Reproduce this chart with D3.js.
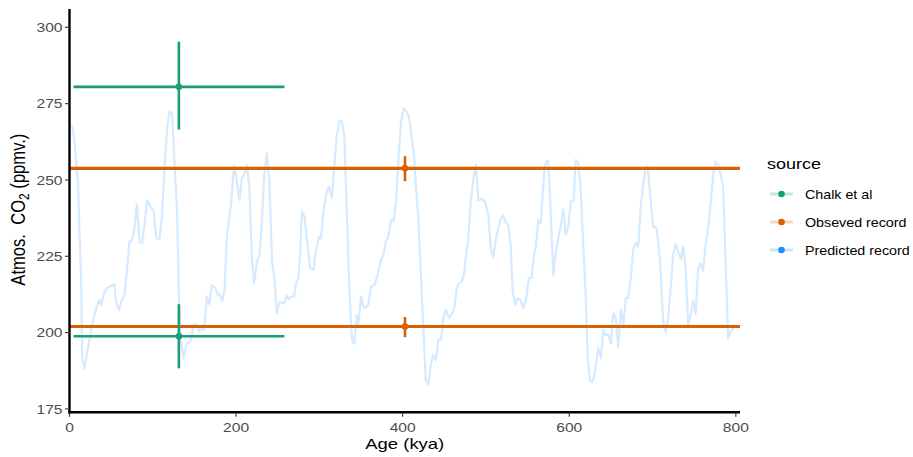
<!DOCTYPE html>
<html>
<head>
<meta charset="utf-8">
<script src="https://cdn.jsdelivr.net/npm/d3@7"></script>
<style>
  html, body { margin: 0; padding: 0; background: #fff; }
  svg { display: block; font-family: "Liberation Sans", Arial, sans-serif; }
</style>
</head>
<body>
<svg id="chart" width="913" height="457"></svg>
<script>
// ---------------- DATA ----------------
const xTicks = [0, 200, 400, 600, 800];
const yTicks = [175, 200, 225, 250, 275, 300];
const legendTitle = "source";
const sources = ["Chalk et al", "Obseved record", "Predicted record"];

// Predicted record (age kya, CO2 ppmv)
const predAge = [3.2, 6.0, 10.1, 14.0, 15.2, 18.0, 22.1, 28.1, 32.0, 36.0, 38.0, 42.0, 47.3, 54.0, 56.0, 59.3, 62.0, 66.0, 69.2, 72.0, 75.2, 78.0, 80.9, 84.0, 87.2, 90.5, 93.2, 96.0, 101.3, 104.0, 108.0, 111.2, 114.0, 117.2, 120.0, 123.2, 126.0, 129.2, 131.3, 134.0, 136.8, 140.9, 144.8, 149.6, 153.6, 156.0, 158.9, 161.6, 164.9, 168.0, 170.9, 174.8, 177.6, 180.8, 183.2, 186.0, 188.9, 191.6, 194.0, 197.6, 200.9, 204.0, 206.9, 209.6, 212.9, 216.0, 218.9, 221.6, 224.9, 228.0, 230.9, 233.6, 236.9, 240.0, 243.2, 245.6, 248.9, 252.0, 257.6, 260.9, 263.3, 266.0, 269.6, 272.0, 274.8, 276.8, 278.9, 282.0, 284.9, 288.8, 292.8, 295.7, 299.6, 302.0, 304.8, 308.9, 311.6, 314.9, 318.0, 320.9, 323.6, 326.9, 330.0, 332.9, 335.6, 338.0, 339.6, 342.0, 344.9, 346.8, 350.0, 352.8, 356.0, 358.8, 362.0, 366.0, 370.1, 374.0, 376.8, 379.7, 382.8, 386.0, 389.3, 392.0, 394.8, 398.0, 401.3, 404.4, 407.6, 410.9, 413.6, 416.0, 418.8, 421.7, 424.8, 427.7, 430.8, 433.7, 436.8, 440.0, 442.8, 446.0, 448.8, 452.0, 455.6, 459.6, 462.0, 464.9, 467.6, 470.9, 473.6, 476.0, 478.8, 481.7, 484.1, 485.6, 488.0, 490.8, 494.9, 498.8, 502.8, 506.0, 508.8, 512.0, 514.8, 517.7, 520.8, 523.7, 526.8, 529.7, 532.1, 535.2, 537.6, 540.8, 544.8, 548.0, 551.6, 554.9, 557.6, 560.0, 562.8, 565.7, 568.1, 570.8, 572.9, 574.8, 577.7, 580.8, 584.0, 586.8, 590.0, 592.8, 595.7, 598.8, 602.0, 605.3, 607.7, 610.8, 613.7, 616.8, 619.7, 622.1, 624.8, 628.1, 630.8, 634.8, 638.0, 640.8, 643.7, 646.8, 650.0, 652.8, 655.7, 658.8, 662.0, 664.8, 668.0, 670.8, 674.0, 676.8, 680.0, 682.8, 686.0, 688.8, 691.7, 694.1, 696.8, 700.8, 704.9, 708.8, 712.8, 715.7, 718.8, 722.0, 724.8, 727.7, 730.8, 734.0, 736.8, 739.7, 742.8, 745.7, 748.8, 751.7, 754.8, 758.0, 760.8, 763.7, 766.8, 770.0, 772.8, 775.7, 778.8, 782.0, 784.8, 787.7, 790.8, 793.7, 796.8, 799.7];
const predCO2 = [268, 262.5, 249.4, 216.7, 191.6, 188.3, 194.9, 203.6, 208, 210.7, 209, 213.4, 215, 215.8, 210.1, 207.4, 210.1, 212.3, 221.1, 229.8, 230.3, 234.2, 242, 229.8, 229.3, 236.3, 243.3, 241.8, 239.6, 230.9, 230.7, 238.5, 253.8, 266.9, 272.4, 271.8, 256, 239.6, 212.3, 197, 191.6, 196.5, 197, 202.7, 202.3, 200.3, 201.4, 200.9, 211.8, 209.3, 215.6, 214.7, 212.6, 212.3, 210.4, 213.4, 230.9, 237.4, 242.4, 254.9, 249.4, 243.4, 250.6, 251.6, 254.9, 247.3, 224.4, 216.2, 223.2, 225.4, 236.3, 250.6, 258.7, 249.4, 223.2, 218.9, 206.3, 210.1, 209.6, 212.1, 211, 211.8, 211.8, 216.2, 217.8, 225, 239.6, 238, 230.9, 221.1, 220.5, 226.5, 231.4, 230.9, 239.6, 246.2, 247.8, 244, 254.9, 264.2, 269.1, 269.3, 264.2, 239.6, 217.8, 202.5, 197, 196.5, 205.8, 202.5, 211.8, 208.5, 208.2, 209.3, 215, 215.6, 218.9, 223.8, 225.4, 229.8, 231.4, 236.9, 236.6, 242.9, 256, 269.1, 273.5, 272.4, 270.7, 263.6, 258.2, 247.3, 237.4, 220, 201.4, 184.5, 183.1, 189.4, 192.7, 191, 197.6, 197.6, 204.7, 207.4, 204.9, 206.3, 208, 214.5, 216.2, 216.7, 218.9, 225.4, 230.9, 242.9, 248.4, 251.6, 255.1, 243.4, 243.8, 242.9, 238.5, 227.1, 224.9, 230.9, 234.2, 237.2, 238.3, 236.1, 235.3, 228.7, 213.4, 209.1, 211, 211, 208, 210.7, 217.8, 218, 225.4, 228.2, 236.9, 235.8, 245.1, 254.9, 256.2, 256.2, 239.6, 218.9, 226.5, 230.9, 235.3, 240.2, 232, 234.7, 243.1, 243.1, 256.6, 255.8, 247.3, 228.7, 212.3, 191.6, 184.5, 183.7, 187.2, 194.9, 191.6, 200.9, 199.2, 199.5, 196.5, 206.3, 204.9, 195.4, 207.4, 202.5, 211.2, 211.4, 218.3, 227.1, 229.3, 228.2, 241.8, 248.4, 253.8, 254.4, 246.2, 234.7, 234.2, 224.4, 203.6, 200.1, 204.7, 215.6, 225.6, 228.9, 226.5, 224.1, 228.2, 221.1, 202.5, 205.8, 210.4, 206.3, 221.1, 222.7, 220.2, 228.7, 234.2, 242.9, 251.6, 256, 255.1, 251.6, 247.8, 223.2, 198.2, 200.3, 201.4, 202.5];

// Observed record: two horizontal levels with a point + vertical error bar
const obsAge = [402.8, 402.8];
const obsCO2 = [253.8, 202.0];
const obsMin = [249.6, 198.5];
const obsMax = [257.8, 205.1];

// Chalk et al: point with vertical and horizontal error bars
const chalkAge = [131.3, 131.3];
const chalkCO2 = [280.5, 198.8];
const chalkMin = [266.5, 188.3];
const chalkMax = [295.3, 209.3];
const chalkAgeMin = [4.8, 4.8];
const chalkAgeMax = [258, 258];

// ---------------- STYLE / LAYOUT ----------------
const colors = { "Chalk et al": "#1B9E77", "Obseved record": "#D95F02", "Predicted record": "#1E90FF" };
const SX = 1.2; // horizontal stretch of text (reference is stretched)
const panel = { left: 69.5, right: 740, top: 9, bottom: 412.3 };

const svg = d3.select("#chart");
const x = d3.scaleLinear().domain([0, 805]).range([panel.left, panel.right]);
const y = d3.scaleLinear().domain([173.9, 306]).range([panel.bottom, panel.top]);

function txt(g, px, py, str, size, anchor, color, rot) {
  const t = g.append("text")
    .attr("transform", `translate(${px},${py}) scale(${SX},1)` + (rot ? ` rotate(${rot})` : ""))
    .attr("font-size", size)
    .attr("fill", color)
    .attr("text-anchor", anchor);
  if (str !== null) t.text(str);
  return t;
}

// Predicted record line
const line = d3.line().x((d, i) => x(predAge[i])).y((d, i) => y(predCO2[i]));
svg.append("path")
  .datum(predCO2)
  .attr("d", line)
  .attr("fill", "none")
  .attr("stroke", colors["Predicted record"])
  .attr("stroke-opacity", 0.19)
  .attr("stroke-width", 2.2)
  .attr("stroke-linejoin", "round");

// Observed record horizontal lines
const obs = svg.append("g");
obsCO2.forEach((v, i) => {
  obs.append("line")
    .attr("x1", x.range()[0]).attr("x2", x.range()[1])
    .attr("y1", y(v)).attr("y2", y(v))
    .attr("stroke", colors["Obseved record"])
    .attr("stroke-width", i === 0 ? 3.4 : 2.9);
  obs.append("line")
    .attr("x1", x(obsAge[i])).attr("x2", x(obsAge[i]))
    .attr("y1", y(obsMin[i])).attr("y2", y(obsMax[i]))
    .attr("stroke", colors["Obseved record"])
    .attr("stroke-width", 2.6);
  obs.append("circle")
    .attr("cx", x(obsAge[i])).attr("cy", y(v)).attr("r", 3.3)
    .attr("fill", colors["Obseved record"]);
});

// Chalk et al
const ch = svg.append("g");
chalkCO2.forEach((v, i) => {
  ch.append("line")
    .attr("x1", x(chalkAgeMin[i])).attr("x2", x(chalkAgeMax[i]))
    .attr("y1", y(v)).attr("y2", y(v))
    .attr("stroke", colors["Chalk et al"]).attr("stroke-width", 2.6);
  ch.append("line")
    .attr("x1", x(chalkAge[i])).attr("x2", x(chalkAge[i]))
    .attr("y1", y(chalkMin[i])).attr("y2", y(chalkMax[i]))
    .attr("stroke", colors["Chalk et al"]).attr("stroke-width", 2.6);
  ch.append("circle")
    .attr("cx", x(chalkAge[i])).attr("cy", y(v)).attr("r", 3.3)
    .attr("fill", colors["Chalk et al"]);
});

// Axes
const ax = svg.append("g");
ax.append("line").attr("x1", panel.left).attr("x2", panel.left)
  .attr("y1", panel.top).attr("y2", panel.bottom + 1.2)
  .attr("stroke", "#000").attr("stroke-width", 2.4);
ax.append("line").attr("x1", panel.left - 1.2).attr("x2", panel.right)
  .attr("y1", panel.bottom).attr("y2", panel.bottom)
  .attr("stroke", "#000").attr("stroke-width", 2.4);

yTicks.forEach(t => {
  ax.append("line").attr("x1", panel.left - 4.5).attr("x2", panel.left)
    .attr("y1", y(t)).attr("y2", y(t)).attr("stroke", "#333").attr("stroke-width", 1.1);
  txt(ax, panel.left - 7, y(t) + 4.6, String(t), 13, "end", "#4D4D4D");
});
xTicks.forEach(t => {
  ax.append("line").attr("x1", x(t)).attr("x2", x(t))
    .attr("y1", panel.bottom).attr("y2", panel.bottom + 4.5).attr("stroke", "#333").attr("stroke-width", 1.1);
  txt(ax, x(t), panel.bottom + 19.5, String(t), 13, "middle", "#4D4D4D");
});

// Axis titles
txt(svg, (panel.left + panel.right) / 2, 448.5, "Age (kya)", 15.4, "middle", "#000");
const yt = txt(svg, 24.5, (panel.top + panel.bottom) / 2 - 1, null, 16.6, "middle", "#000", -90);
yt.append("tspan").text("Atmos.\u00A0\u00A0CO");
yt.append("tspan").attr("font-size", 12).attr("dy", 4).text("2");
yt.append("tspan").attr("dy", -4).text(" (ppmv.)");

// Legend
const lg = svg.append("g");
txt(lg, 767, 169, legendTitle, 15, "start", "#000");
sources.forEach((s, i) => {
  const cy = 194 + i * 28;
  lg.append("line").attr("x1", 770).attr("x2", 793).attr("y1", cy).attr("y2", cy)
    .attr("stroke", colors[s]).attr("stroke-opacity", 0.25).attr("stroke-width", 3);
  lg.append("circle").attr("cx", 781.5).attr("cy", cy).attr("r", 3.3).attr("fill", colors[s]);
  txt(lg, 805, cy + 4.5, s, 11.9, "start", "#000");
});
</script>
</body>
</html>
